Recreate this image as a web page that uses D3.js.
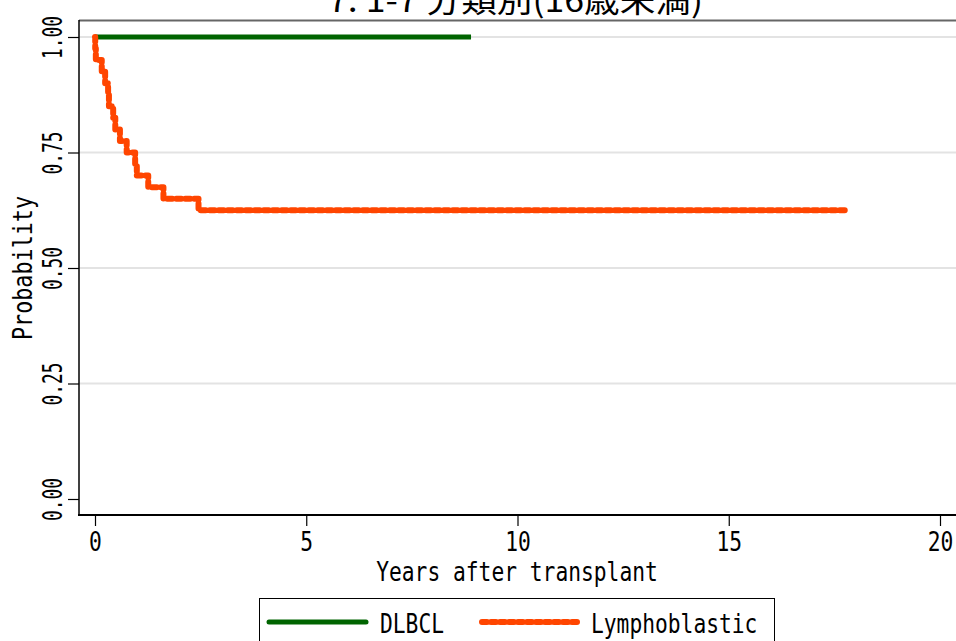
<!DOCTYPE html>
<html>
<head>
<meta charset="utf-8">
<script src="https://cdn.jsdelivr.net/npm/d3@7"></script>
<style>
  body { margin: 0; background: #fff; overflow: hidden; }
  text { font-family: "DejaVu Sans Mono", monospace; fill: #000; }
</style>
</head>
<body>
<script>
const w = 956;
const h = 641;

// chart values
var title = "7. 1-7 分類別(16歳未満)";
var xLabel = "Years after transplant";
var yLabel = "Probability";
var xTicks = [0, 5, 10, 15, 20];
var yTicks = [0, 0.25, 0.5, 0.75, 1];
var gridValues = [0.25, 0.5, 0.75, 1];

var seriesNames = ["DLBCL", "Lymphoblastic"];
var dlbclTimes = [0, 8.9];
var dlbclSurv = [1, 1];
var lymphTimes = [0, 0.005, 0.02, 0.16, 0.24, 0.31, 0.33, 0.43, 0.48, 0.59, 0.75, 0.95, 0.99, 1.26, 1.62, 2.45, 17.75];
var lymphSurv = [1, 0.975, 0.95, 0.925, 0.9, 0.875, 0.85, 0.825, 0.8, 0.775, 0.75, 0.725, 0.7, 0.675, 0.65, 0.625, 0.625];

var green1 = "#006400";
var orange1 = "#ff4500";
const charW = 12.8;
const fontSize = "26px";

const svg = d3.select("body")
    .append("svg")
    .attr("width", w)
    .attr("height", h);

const x = d3.scaleLinear().domain([0, 20]).range([95, 940]);
const y = d3.scaleLinear().domain([0, 1]).range([499, 37]);

// squeeze text so it looks like the narrow Stata font
function fit(sel, per) {
    sel.attr("textLength", function () { return this.textContent.length * per; })
       .attr("lengthAdjust", "spacingAndGlyphs");
}

// grid lines
svg.selectAll("line.grid")
    .data(gridValues)
    .enter()
    .append("line")
    .attr("class", "grid")
    .attr("x1", 79)
    .attr("x2", w)
    .attr("y1", d => y(d))
    .attr("y2", d => y(d))
    .style("stroke", "#e3e3e3")
    .style("stroke-width", 2);

// top border of the plot region
svg.append("line")
    .attr("x1", 79).attr("x2", w)
    .attr("y1", 20.5).attr("y2", 20.5)
    .style("stroke", "#666")
    .style("stroke-width", 2);

// x axis
const xAxis = svg.append("g")
    .attr("transform", "translate(0,515)")
    .call(d3.axisBottom(x).tickValues(xTicks).tickSize(11).tickPadding(7).tickFormat(d3.format("d")));
xAxis.select(".domain").attr("d", "M78,0H" + w).style("stroke-width", 2);
xAxis.selectAll(".tick line").style("stroke-width", 1.2);
xAxis.selectAll(".tick text")
    .attr("font-family", "DejaVu Sans Mono")
    .style("font-size", fontSize)
    .call(fit, charW);

// y axis
const yAxis = svg.append("g")
    .attr("transform", "translate(79,0)")
    .call(d3.axisLeft(y).tickValues(yTicks).tickSize(11).tickFormat(d3.format(".2f")));
yAxis.select(".domain").attr("d", "M0,20V516").style("stroke-width", 1.5);
yAxis.selectAll(".tick line").style("stroke-width", 1.2);
yAxis.selectAll(".tick text")
    .attr("font-family", "DejaVu Sans Mono")
    .style("font-size", fontSize)
    .attr("x", null).attr("dy", null)
    .attr("text-anchor", "middle")
    .attr("transform", "translate(-17,0) rotate(-90)")
    .call(fit, 10.8);

// axis titles
svg.append("text")
    .attr("x", 517)
    .attr("y", 581)
    .attr("text-anchor", "middle")
    .style("font-size", fontSize)
    .text(xLabel)
    .call(fit, charW);

svg.append("text")
    .attr("transform", "translate(32,268) rotate(-90)")
    .attr("text-anchor", "middle")
    .style("font-size", fontSize)
    .text(yLabel)
    .call(fit, 13.1);

// title (top is cut off in the original)
svg.append("text")
    .attr("x", 515.5)
    .attr("y", 12)
    .attr("text-anchor", "middle")
    .style("font-family", "'Noto Sans CJK JP'")
    .style("font-size", "32px")
    .attr("textLength", 375)
    .attr("lengthAdjust", "spacingAndGlyphs")
    .text(title);

// survival curves
const line = d3.line()
    .x(d => x(d[0]))
    .y(d => y(d[1]))
    .curve(d3.curveStepAfter);

svg.append("path")
    .datum(d3.zip(dlbclTimes, dlbclSurv))
    .attr("d", line)
    .style("fill", "none")
    .style("stroke", green1)
    .style("stroke-width", 5);

svg.append("path")
    .datum(d3.zip(lymphTimes, lymphSurv))
    .attr("d", line)
    .style("fill", "none")
    .style("stroke", orange1)
    .style("stroke-width", 6)
    .style("stroke-linecap", "round")
    .style("stroke-linejoin", "round")
    .style("stroke-dasharray", "5,4");

// legend
const legend = svg.append("g");
legend.append("rect")
    .attr("x", 259.5).attr("y", 598.5)
    .attr("width", 515).attr("height", 60)
    .style("fill", "#fff")
    .style("stroke", "#000")
    .style("stroke-width", 1);

var legendItems = [
    { name: seriesNames[0], color: green1, dash: null, wd: 5, x1: 269, x2: 366, tx: 380 },
    { name: seriesNames[1], color: orange1, dash: "5,4", wd: 6, x1: 482, x2: 577, tx: 591 }
];
legendItems.forEach(function (d) {
    legend.append("line")
        .attr("x1", d.x1).attr("x2", d.x2)
        .attr("y1", 622).attr("y2", 622)
        .style("stroke", d.color)
        .style("stroke-width", d.wd)
        .style("stroke-linecap", "round")
        .style("stroke-dasharray", d.dash);
    legend.append("text")
        .attr("x", d.tx)
        .attr("y", 633)
        .style("font-size", fontSize)
        .text(d.name)
        .call(fit, charW);
});
</script>
</body>
</html>
